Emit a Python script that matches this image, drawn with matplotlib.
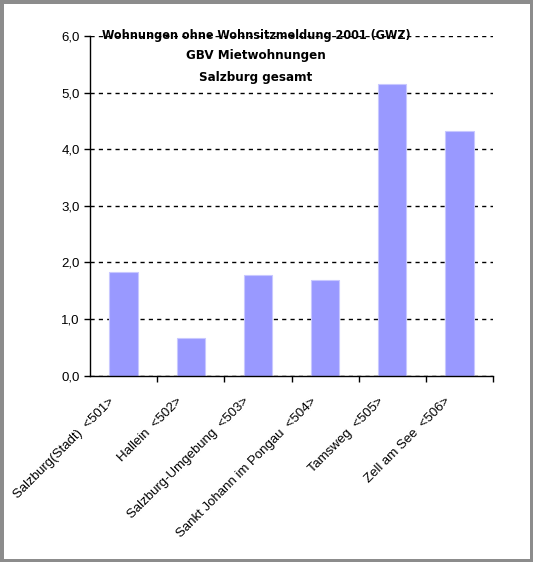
import matplotlib
matplotlib.use("Agg")
import matplotlib.pyplot as plt
import matplotlib.transforms as mtrans
import numpy as np

regionen = ["Salzburg(Stadt)  <501>", "Hallein  <502>", "Salzburg-Umgebung  <503>",
            "Sankt Johann im Pongau  <504>", "Tamsweg  <505>", "Zell am See  <506>"]
werte = [1.83, 0.66, 1.78, 1.69, 5.16, 4.33]
y_ticks = [0, 1, 2, 3, 4, 5, 6]
titel = ["Wohnungen ohne Wohnsitzmeldung 2001 (GWZ)", "GBV Mietwohnungen", "Salzburg gesamt"]

plt.rcParams['font.family'] = ['Liberation Sans', 'DejaVu Sans']

fig = plt.figure(figsize=(5.33, 5.62), dpi=100)
fig.patch.set_edgecolor("#8c8c8c")
fig.patch.set_linewidth(5)
ax = fig.add_axes([90 / 533, 1 - 375.7 / 562, (493 - 90) / 533, (375.7 - 36) / 562])

x = np.arange(len(regionen))
ax.bar(x + 0.5, werte, width=0.42, color="#9999ff", edgecolor="#c8c8ff", linewidth=0.8, zorder=2)

ax.set_xlim(0, len(regionen))
ax.set_ylim(0, 6)
ax.set_yticks(y_ticks)
ax.set_yticklabels([f"{v:.1f}".replace(".", ",") for v in y_ticks], fontsize=9.5)
ax.set_xticks(x + 1, minor=False)
ax.set_xticklabels([])
ax.set_xticks(x + 0.5, minor=True)
ax.set_xticklabels(regionen, minor=True, rotation=45, ha="right", va="top",
                   rotation_mode="anchor", fontsize=9.5)
ax.tick_params(axis="x", which="minor", length=0, pad=14)
ax.tick_params(axis="x", which="major", direction="out", length=4, width=1)
ax.tick_params(axis="y", direction="out", length=4, width=1)
versatz = mtrans.ScaledTranslation(-15 / 100, 0, fig.dpi_scale_trans)
for t in ax.xaxis.get_minorticklabels():
    t.set_transform(t.get_transform() + versatz)

ax.yaxis.grid(True, linestyle=(0, (3, 3)), color="black", linewidth=1, zorder=1)
ax.spines["top"].set_visible(False)
ax.spines["right"].set_visible(False)
ax.spines["left"].set_linewidth(1)
ax.spines["bottom"].set_linewidth(1)

for i, (zeile, ypix) in enumerate(zip(titel, [36, 56, 78])):
    fig.text(256 / 533, 1 - ypix / 562, zeile, ha="center", va="center",
             fontsize=9 if i == 0 else 9.5, fontweight="bold", family=['DejaVu Sans'],
             stretch="condensed")

fig.savefig("out.png", dpi=100, edgecolor=fig.get_edgecolor())
